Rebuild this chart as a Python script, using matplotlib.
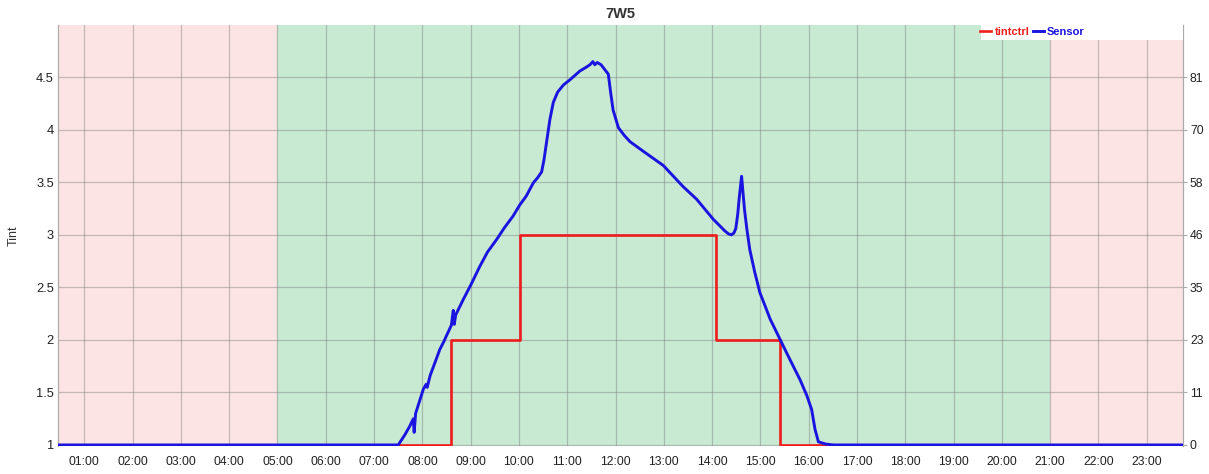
import matplotlib
matplotlib.use("Agg")
import matplotlib.pyplot as plt
from matplotlib.patches import Rectangle

plt.rcParams['font.family'] = ['Liberation Sans', 'DejaVu Sans']

# ---------------- data ----------------
title = "7W5"
x_start, x_end = 0.455, 23.75
night_end, night_start = 5.0, 21.0
hour_ticks = list(range(1, 24))
hour_labels = ["%02d:00" % h for h in hour_ticks]

tint_ticks = [1, 1.5, 2, 2.5, 3, 3.5, 4, 4.5]
sensor_ticks = [0, 11.667, 23.333, 35.0, 46.667, 58.333, 70.0, 81.667]
sensor_labels = ["0", "11", "23", "35", "46", "58", "70", "81"]

tint_time = [0.455, 8.59, 10.02, 14.08, 15.41, 23.75]
tint_value = [1, 2, 3, 2, 1, 1]

sensor_time = [0.455, 7.50, 7.64, 7.74, 7.81, 7.83, 7.86, 8.02, 8.08, 8.10, 8.16,
               8.25, 8.36, 8.45, 8.50, 8.60, 8.64, 8.66, 8.69, 8.85, 9.00, 9.19,
               9.35, 9.54, 9.70, 9.88, 10.02, 10.15, 10.30, 10.38, 10.47, 10.52,
               10.57, 10.64, 10.71, 10.80, 10.92, 11.06, 11.26, 11.40, 11.47,
               11.53, 11.57, 11.62, 11.70, 11.75, 11.85, 11.90, 11.95, 12.06,
               12.18, 12.30, 12.57, 12.99, 13.40, 13.68, 14.02, 14.26, 14.34,
               14.40, 14.45, 14.49, 14.53, 14.56, 14.61, 14.64, 14.67, 14.72,
               14.78, 14.88, 14.99, 15.10, 15.20, 15.40, 15.55, 15.68, 15.82,
               15.96, 16.06, 16.13, 16.20, 16.35, 16.51, 23.75]
sensor_value = [0, 0, 2.3, 4.2, 5.8, 2.8, 7.0, 12.4, 13.5, 12.8, 15.4,
                18.0, 21.2, 23.1, 24.3, 26.6, 29.9, 26.8, 28.9, 32.4, 35.5, 39.7,
                42.9, 45.7, 48.3, 50.9, 53.4, 55.3, 58.3, 59.3, 60.7, 63.5,
                67.2, 72.3, 76.1, 78.4, 80.0, 81.2, 83.1, 84.0, 84.5,
                85.2, 84.5, 85.0, 84.5, 83.8, 82.4, 78.2, 74.4, 70.5,
                68.8, 67.4, 65.3, 62.1, 57.4, 54.6, 50.2, 47.6, 46.9,
                46.7, 47.1, 48.1, 51.3, 54.8, 59.7, 56.0, 52.3, 47.9,
                43.4, 38.5, 33.8, 30.8, 28.0, 23.6, 20.3, 17.5, 14.5,
                11.0, 7.9, 3.5, 0.7, 0.2, 0, 0]

# ---------------- figure ----------------
fig = plt.figure(figsize=(12.09, 4.74), dpi=100)
ax = fig.add_axes([58/1209, 1-446/474, (1183-58)/1209, (446-25)/474])
ax2 = ax.twinx()

pink = "#fde4e4"
green = "#c8ead3"
ax.axvspan(x_start, night_end, color=pink, lw=0, zorder=0)
ax.axvspan(night_end, night_start, color=green, lw=0, zorder=0)
ax.axvspan(night_start, x_end, color=pink, lw=0, zorder=0)

ax.set_xlim(x_start, x_end)
ax.set_ylim(0.99, 5.0)
ax2.set_ylim((0.99 - 1) * 35.0 / 1.5, 4.0 * 35.0 / 1.5)

ax.set_xticks(hour_ticks)
ax.set_xticklabels(hour_labels)
ax.set_yticks(tint_ticks)
ax.set_yticklabels([("%g" % t) for t in tint_ticks])
ax2.set_yticks(sensor_ticks)
ax2.set_yticklabels(sensor_labels)

ax.grid(True, color="#7f7f7f", alpha=0.45, lw=0.9, zorder=1)
ax.set_axisbelow(False)

l1, = ax.plot(tint_time, tint_value, color="#ee1c1c", lw=1.9,
              drawstyle="steps-post", zorder=3, label="tintctrl")
l2, = ax2.plot(sensor_time, sensor_value, color="#1a14e0", lw=2.1,
               zorder=4, label="Sensor")

ax.set_title(title, fontsize=10.5, fontweight="bold", color="#333333", pad=5)
ax.set_ylabel("Tint", fontsize=9, color="#333333", labelpad=12)

for a in (ax, ax2):
    a.spines["top"].set_visible(False)
    a.spines["bottom"].set_visible(False)
    a.spines["left"].set_color("#aaaaaa")
    a.spines["right"].set_color("#aaaaaa")
ax.tick_params(axis="x", length=0, labelsize=8.7, colors="#222222", pad=7)
ax.tick_params(axis="y", length=0, labelsize=9.3, colors="#222222", pad=3)
ax2.tick_params(axis="y", length=3, color="#aaaaaa", labelsize=8.7,
                colors="#222222", pad=2)

# legend with white strip
ax2.add_patch(Rectangle((0.8204, 0.9644), 0.1796, 0.0427, transform=ax2.transAxes,
                        facecolor="white", edgecolor="none", clip_on=False,
                        zorder=5))
leg = ax2.legend(handles=[l1, l2], loc="center left",
                 bbox_to_anchor=(0.8195, 0.9845), ncol=2, frameon=False,
                 fontsize=8, handlelength=1.0, handletextpad=0.3,
                 columnspacing=0.3, borderaxespad=0, borderpad=0.0)
leg.set_zorder(6)
for txt, col in zip(leg.get_texts(), ["#ee1c1c", "#1a14e0"]):
    txt.set_color(col)
    txt.set_fontweight("bold")

fig.savefig("out.png", dpi=100)
